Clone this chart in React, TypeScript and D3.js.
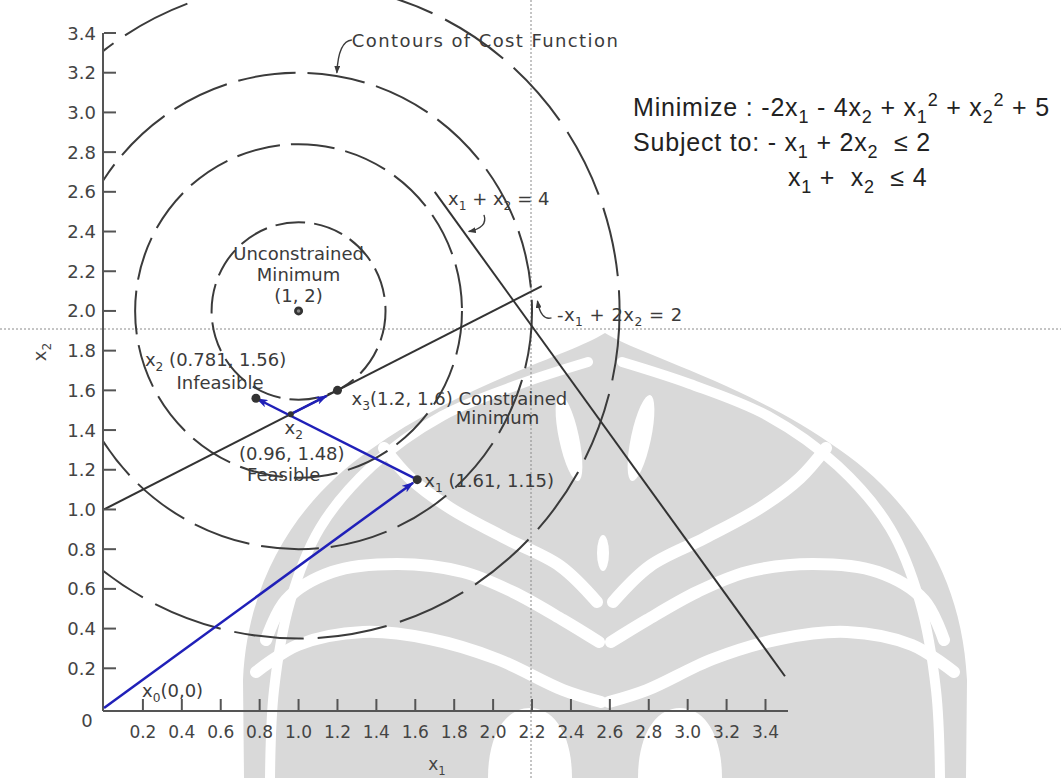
import React from 'react';
import * as d3 from 'd3';

const W = 1061;
const H = 778;

// ---------- data ----------
const xTickValues = [0.2, 0.4, 0.6, 0.8, 1.0, 1.2, 1.4, 1.6, 1.8, 2.0, 2.2, 2.4, 2.6, 2.8, 3.0, 3.2, 3.4];
const xTickLabels = ['0.2', '0.4', '0.6', '0.8', '1.0', '1.2', '1.4', '1.6', '1.8', '2.0', '2.2', '2.4', '2.6', '2.8', '3.0', '3.2', '3.4'];
const yTickValues = [0.2, 0.4, 0.6, 0.8, 1.0, 1.2, 1.4, 1.6, 1.8, 2.0, 2.2, 2.4, 2.6, 2.8, 3.0, 3.2, 3.4];
const yTickLabels = ['0.2', '0.4', '0.6', '0.8', '1.0', '1.2', '1.4', '1.6', '1.8', '2.0', '2.2', '2.4', '2.6', '2.8', '3.0', '3.2', '3.4'];

// cost f = (x1-1)^2 + (x2-2)^2 ; contour radii around the unconstrained minimum
const contourCenter = [1, 2];
const contourRadii = [0.447, 0.84, 1.2, 1.65];

// iterates of the search
const pointIds = ['x0', 'x1', 'x2i', 'x2f', 'x3'];
const pointX1 = [0, 1.61, 0.781, 0.96, 1.2];
const pointX2 = [0, 1.15, 1.56, 1.48, 1.6];
const pointDotted = [false, true, true, true, true];

// search moves (blue arrows)
const stepFrom = ['x0', 'x1', 'x2f'];
const stepTo = ['x1', 'x2i', 'x3'];

// constraint boundaries (segments as drawn)
const constraintStartX1 = [0, 1.7];
const constraintStartX2 = [1.0, 2.6];
const constraintEndX1 = [2.25, 3.5];
const constraintEndX2 = [2.125, 0.16];

// ---------- layout / style ----------
const x = d3.scaleLinear().domain([0, 3.4]).range([104, 765.5]);
const y = d3.scaleLinear().domain([0, 3.4]).range([708, 33]);
const AXIS_Y = 711;
const INK = '#3b3b3b';
const BLUE = '#2020b8';
const FIG_FONT = '"DejaVu Sans", Verdana, sans-serif';
const EQ_FONT = '"Liberation Sans", Arial, sans-serif';
const contourDash = ['30 9', '44 11', '58 12', '70 14'];
const stepShorten = [5, 1, 12];

const pointLabels = [
  { at: 'x0', text: 'x_0(0,0)', dx: 38, dy: -11, anchor: 'start' },
  { at: 'x1', text: 'x_1 (1.61, 1.15)', dx: 7, dy: 7, anchor: 'start' },
  { at: 'x2i', text: 'x_2 (0.781, 1.56)', dx: -111, dy: -32, anchor: 'start' },
  { at: 'x2i', text: 'Infeasible', dx: -36, dy: -9, anchor: 'middle' },
  { at: 'x3', text: 'x_3(1.2, 1.6) Constrained', dx: 14, dy: 15, anchor: 'start' },
  { at: 'x3', text: 'Minimum', dx: 160, dy: 34, anchor: 'middle' },
  { at: 'x2f', text: 'x_2', dx: 3, dy: 20, anchor: 'middle' },
  { at: 'x2f', text: '(0.96, 1.48)', dx: 1, dy: 46, anchor: 'middle' },
  { at: 'x2f', text: 'Feasible', dx: -7, dy: 67, anchor: 'middle' },
];

const centerLabels = [
  { text: 'Unconstrained', dy: -51 },
  { text: 'Minimum', dy: -30 },
  { text: '(1, 2)', dy: -9 },
];

// free annotations, positioned in data units
const notes = [
  { text: 'Contours of Cost Function', x1: 1.274, x2: 3.33, spacing: 1.4 },
  { text: 'x_1 + x_2 = 4', x1: 1.768, x2: 2.535, spacing: 0 },
  { text: '-x_1 + 2x_2 = 2', x1: 2.328, x2: 1.95, spacing: 0.5 },
];

// leader arrows: start, control, end (data units)
const leaders = [
  [[1.274, 3.365], [1.205, 3.36], [1.197, 3.2]],
  [[1.953, 2.484], [1.975, 2.42], [1.875, 2.4]],
  [[2.3, 1.965], [2.246, 1.95], [2.228, 2.05]],
];

const equationLines = [
  { text: 'Minimize : -2x_1 - 4x_2 + x_1^2 + x_2^2 + 5', px: 633, py: 116 },
  { text: 'Subject to: - x_1 + 2x_2  \u2264 2', px: 633, py: 151 },
  { text: 'x_1 +  x_2  \u2264 4', px: 788, py: 186 },
];

// ---------- helpers ----------
type Seg = { t: string; k: 'n' | 'sub' | 'sup' };
function parseRich(s: string): Seg[] {
  const segs: Seg[] = [];
  let buf = '';
  let i = 0;
  while (i < s.length) {
    const c = s[i];
    if ((c === '_' || c === '^') && i + 1 < s.length) {
      if (buf) { segs.push({ t: buf, k: 'n' }); buf = ''; }
      segs.push({ t: s[i + 1], k: c === '_' ? 'sub' : 'sup' });
      i += 2;
    } else { buf += c; i += 1; }
  }
  if (buf) segs.push({ t: buf, k: 'n' });
  return segs;
}

function Rich({ s, size, small = 0.68 }: { s: string; size: number; small?: number }) {
  const segs = parseRich(s);
  let shift = 0;
  return (
    <>
      {segs.map((g, i) => {
        const target = g.k === 'sub' ? size * 0.28 : g.k === 'sup' ? -size * 0.42 : 0;
        const dy = target - shift;
        shift = target;
        return (
          <tspan key={i} dy={dy} fontSize={g.k === 'n' ? size : size * small}>{g.t}</tspan>
        );
      })}
    </>
  );
}

const pt = (id: string) => {
  const i = pointIds.indexOf(id);
  return [x(pointX1[i]), y(pointX2[i])];
};

// ---------- background emblem (symmetric about x = 605) ----------
function Emblem() {
  const cx = 605;
  const curve = d3.line().curve(d3.curveCatmullRom.alpha(0.5));
  const mirror = (pts: number[][]) => pts.map(([a, b]) => [2 * cx - a, b]);
  const outline =
    'M605,333 C640,355 750,385 840,450 C905,495 962,570 967,680 L966,778 L244,778 L243,680 C248,570 305,495 370,450 C460,385 570,355 605,333 Z';
  // left-hand white bands, mirrored to the right
  const bands = [
    { w: 10, p: [[588, 362], [520, 384], [442, 416], [372, 466], [320, 528], [290, 602], [274, 690], [270, 778]] },
    { w: 12, p: [[597, 602], [560, 566], [505, 538], [450, 508], [410, 478], [384, 448]] },
    { w: 12, p: [[599, 642], [563, 620], [513, 592], [463, 572], [397, 564], [332, 572], [286, 600], [266, 640]] },
    { w: 12, p: [[601, 702], [563, 690], [497, 659], [430, 639], [363, 632], [298, 645], [256, 672]] },
  ];
  const arch = 'M488,778 C488,734 506,708 530,708 C554,708 572,734 572,778 Z';
  return (
    <g>
      <path d={outline} fill="#d9d9d9" />
      {bands.map((b, i) => (
        <g key={i}>
          <path d={curve(b.p as any) || ''} fill="none" stroke="#fff" strokeWidth={b.w} strokeLinecap="round" />
          <path d={curve(mirror(b.p) as any) || ''} fill="none" stroke="#fff" strokeWidth={b.w} strokeLinecap="round" />
        </g>
      ))}
      <path d={arch} fill="#fff" />
      <path d={arch} fill="#fff" transform={`translate(${2 * cx},0) scale(-1,1)`} />
      <ellipse cx={641} cy={438} rx={10} ry={44} transform="rotate(12 641 438)" fill="#fff" />
      <ellipse cx={569} cy={438} rx={10} ry={44} transform="rotate(-12 569 438)" fill="#fff" />
      <ellipse cx={603} cy={553} rx={6} ry={18} fill="#fff" />
    </g>
  );
}

export default function App() {
  const [ux, uy] = [x(contourCenter[0]), y(contourCenter[1])];
  return (
    <svg
      width={W}
      height={H}
      viewBox={`0 0 ${W} ${H}`}
      style={{ position: 'absolute', left: 0, top: 0, display: 'block', background: '#fff' }}
    >
      <defs>
        <clipPath id="plotClip">
          <rect x={x(0)} y={0} width={W - x(0)} height={y(0)} />
        </clipPath>
        <marker id="blueHead" viewBox="0 0 12 8" refX={11} refY={4} markerWidth={12} markerHeight={8}
          markerUnits="userSpaceOnUse" orient="auto">
          <path d="M0,0 L12,4 L0,8 L3,4 Z" fill={BLUE} />
        </marker>
        <marker id="inkHead" viewBox="0 0 8 6" refX={7} refY={3} markerWidth={8} markerHeight={6}
          markerUnits="userSpaceOnUse" orient="auto">
          <path d="M0,0 L8,3 L0,6 Z" fill={INK} />
        </marker>
      </defs>

      <rect width={W} height={H} fill="#fff" />
      <Emblem />

      {/* guide lines */}
      <line x1={0} x2={W} y1={329} y2={329} stroke="#8a8a8a" strokeWidth={1} strokeDasharray="2 2" />
      <line x1={531} x2={531} y1={0} y2={H} stroke="#8a8a8a" strokeWidth={1} strokeDasharray="2 2" />

      {/* contours */}
      <g clipPath="url(#plotClip)">
        {contourRadii.map((r, i) => (
          <ellipse key={i} cx={ux} cy={uy}
            rx={x(contourCenter[0] + r) - ux} ry={y(contourCenter[1] - r) - uy}
            fill="none" stroke={INK} strokeWidth={2} strokeDasharray={contourDash[i]} />
        ))}
      </g>

      {/* constraints */}
      {constraintStartX1.map((v, i) => (
        <line key={i} x1={x(v)} y1={y(constraintStartX2[i])} x2={x(constraintEndX1[i])} y2={y(constraintEndX2[i])}
          stroke="#333" strokeWidth={2} />
      ))}

      {/* axes */}
      <line x1={x(0) - 1} x2={x(0) - 1} y1={y(3.4)} y2={AXIS_Y} stroke="#555" strokeWidth={2} />
      <line x1={x(0) - 1} x2={788} y1={AXIS_Y} y2={AXIS_Y} stroke="#555" strokeWidth={2} />
      {yTickValues.map((v, i) => (
        <g key={`y${i}`}>
          <line x1={x(0)} x2={x(0) + 12} y1={y(v)} y2={y(v)} stroke="#555" strokeWidth={2} />
          <text x={96} y={y(v) + 6.5} textAnchor="end" fontFamily={FIG_FONT} fontSize={18} fill="#444">
            {yTickLabels[i]}
          </text>
        </g>
      ))}
      {xTickValues.map((v, i) => (
        <g key={`x${i}`}>
          <line x1={x(v)} x2={x(v)} y1={AXIS_Y} y2={AXIS_Y - 12} stroke="#555" strokeWidth={2} />
          <text x={x(v)} y={738} textAnchor="middle" fontFamily={FIG_FONT} fontSize={17} fill="#444">
            {xTickLabels[i]}
          </text>
        </g>
      ))}
      <text x={87} y={727} textAnchor="middle" fontFamily={FIG_FONT} fontSize={18} fill="#444">0</text>
      <text x={437} y={770} textAnchor="middle" fontFamily={FIG_FONT} fontSize={17} fill="#444">
        <Rich s="x_1" size={17} />
      </text>
      <text transform="translate(46,352) rotate(-90)" textAnchor="middle" fontFamily={FIG_FONT} fontSize={18} fill="#444">
        <Rich s="x_2" size={18} />
      </text>

      {/* search moves */}
      {stepFrom.map((f, i) => {
        const [ax, ay] = pt(f);
        const [bx, by] = pt(stepTo[i]);
        const len = Math.hypot(bx - ax, by - ay);
        const k = (len - stepShorten[i]) / len;
        return (
          <line key={i} x1={ax} y1={ay} x2={ax + (bx - ax) * k} y2={ay + (by - ay) * k}
            stroke={BLUE} strokeWidth={2.5} markerEnd="url(#blueHead)" />
        );
      })}

      {/* points */}
      <circle cx={ux} cy={uy} r={4.5} fill="#333" />
      <circle cx={ux} cy={uy} r={1.8} fill="#888" />
      {pointIds.map((id, i) => pointDotted[i] ? (
        <circle key={id} cx={x(pointX1[i])} cy={y(pointX2[i])} r={id === 'x2f' ? 3 : 4.5} fill="#333" />
      ) : null)}

      {/* labels */}
      <g fontFamily={FIG_FONT} fill={INK}>
        {centerLabels.map((l, i) => (
          <text key={i} x={ux} y={uy + l.dy} textAnchor="middle" fontSize={18}>{l.text}</text>
        ))}
        {pointLabels.map((l, i) => {
          const [px, py] = pt(l.at);
          return (
            <text key={i} x={px + l.dx} y={py + l.dy} textAnchor={l.anchor as any} fontSize={18} xmlSpace="preserve">
              <Rich s={l.text} size={18} />
            </text>
          );
        })}
        {notes.map((n, i) => (
          <text key={i} x={x(n.x1)} y={y(n.x2)} fontSize={18} letterSpacing={n.spacing} xmlSpace="preserve">
            <Rich s={n.text} size={18} />
          </text>
        ))}
      </g>
      {leaders.map((l, i) => {
        const p = d3.path();
        p.moveTo(x(l[0][0]), y(l[0][1]));
        p.quadraticCurveTo(x(l[1][0]), y(l[1][1]), x(l[2][0]), y(l[2][1]));
        return <path key={i} d={p.toString()} fill="none" stroke={INK} strokeWidth={1.4} markerEnd="url(#inkHead)" />;
      })}

      {/* problem statement */}
      <g fontFamily={EQ_FONT} fill="#222">
        {equationLines.map((l, i) => (
          <text key={i} x={l.px} y={l.py} fontSize={25} letterSpacing={0.8} xmlSpace="preserve" style={{ whiteSpace: 'pre' }}>
            <Rich s={l.text} size={25} small={0.72} />
          </text>
        ))}
      </g>
    </svg>
  );
}
